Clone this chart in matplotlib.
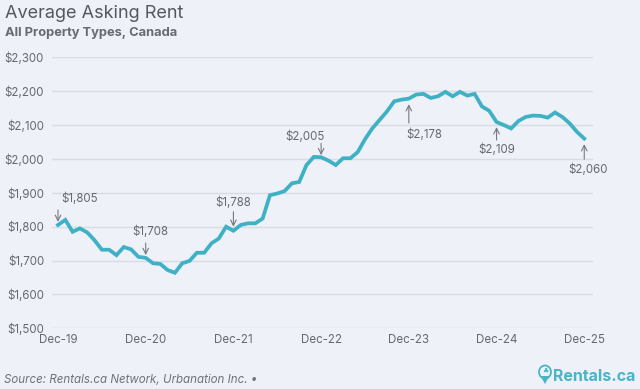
import matplotlib
matplotlib.use("Agg")
import matplotlib.pyplot as plt
from matplotlib.patches import Ellipse, Polygon

# ---- data ----
tick_labels = ["Dec-19", "Dec-20", "Dec-21", "Dec-22", "Dec-23", "Dec-24", "Dec-25"]
rent = [
    1805, 1820, 1785, 1795, 1783, 1760, 1732, 1732, 1716, 1740, 1733, 1711,  # Dec-19..Nov-20
    1708, 1692, 1690, 1672, 1664, 1692, 1699, 1723, 1723, 1751, 1765, 1800,  # Dec-20..Nov-21
    1788, 1805, 1810, 1810, 1824, 1893, 1898, 1905, 1928, 1932, 1982, 2006,  # Dec-21..Nov-22
    2005, 1995, 1982, 2002, 2002, 2020, 2058, 2090, 2115, 2140, 2170, 2175,  # Dec-22..Nov-23
    2178, 2190, 2192, 2180, 2185, 2198, 2185, 2198, 2187, 2192, 2155, 2142,  # Dec-23..Nov-24
    2109, 2100, 2090, 2112, 2124, 2128, 2127, 2122, 2137, 2124, 2105, 2080,  # Dec-24..Nov-25
    2060,                                                                    # Dec-25
]
annot_idx = [0, 12, 24, 36, 48, 60, 72]
annot_txt = ["$1,805", "$1,708", "$1,788", "$2,005", "$2,178", "$2,109", "$2,060"]
yticks = [1500, 1600, 1700, 1800, 1900, 2000, 2100, 2200, 2300]

BG = "#eef1f7"
LINE = "#3fb1c4"
TXT = "#666a70"

plt.rcParams["font.family"] = ["Inter", "DejaVu Sans"]

fig = plt.figure(figsize=(6.4, 3.89), dpi=100, facecolor=BG)
ax = fig.add_axes([0.0808, 0.156, 0.8458, 0.6967], facecolor=BG)

x = list(range(len(rent)))
ax.plot(x, rent, color=LINE, lw=2.7, solid_joinstyle="miter", zorder=3)

ax.set_xlim(-0.86, 73.2)
ax.set_ylim(1500, 2300)
ax.set_yticks(yticks)
ax.set_yticklabels([f"${v:,}" for v in yticks])
ax.set_xticks(list(range(0, 73, 12)))
ax.set_xticklabels(tick_labels)
ax.tick_params(axis="both", length=0, labelsize=8.3, colors=TXT)
ax.tick_params(axis="y", pad=5.5)
ax.tick_params(axis="x", pad=4)
for s in ax.spines.values():
    s.set_visible(False)
ax.grid(axis="y", color="#d8dce4", lw=1)
ax.set_axisbelow(True)

# annotation layout (points): text offset, arrow tail offset, gap between arrow head and line
specs = {
    0: dict(tx=2.2, ty=18.7, ha="left", a0=10.8, gap=2.2),
    12: dict(tx=3.2, ty=18.8, ha="center", a0=10.6, gap=2.0),
    24: dict(tx=0, ty=20.4, ha="center", a0=13.7, gap=2.9),
    36: dict(tx=-11.4, ty=14.7, ha="center", a0=10.0, gap=1.5),
    48: dict(tx=11.2, ty=-25.8, ha="center", a0=-17.6, gap=4.0),
    60: dict(tx=0, ty=-20.2, ha="center", a0=-13.0, gap=3.7),
    72: dict(tx=2.8, ty=-22.7, ha="center", a0=-14.8, gap=4.0),
}
for i, t in zip(annot_idx, annot_txt):
    sp = specs[i]
    xi, yi = x[i], rent[i]
    ax.annotate("", xy=(xi, yi), xytext=(0, sp["a0"]), textcoords="offset points",
                arrowprops=dict(arrowstyle="->", color="#777b80", lw=0.8,
                                shrinkA=0, shrinkB=sp["gap"]),
                annotation_clip=False)
    ax.annotate(t, xy=(xi, yi), xytext=(sp["tx"], sp["ty"]), textcoords="offset points",
                ha=sp["ha"], va="center", fontsize=8.3, color=TXT, annotation_clip=False)

# titles
fig.text(0.008, 0.966, "Average Asking Rent", fontsize=13, color="#55595f", va="center", ha="left")
fig.text(0.008, 0.914, "All Property Types, Canada", fontsize=9.3, color="#676b71",
         fontweight="bold", va="center", ha="left")
fig.text(0.006, 0.022, "Source: Rentals.ca Network, Urbanation Inc. \u2022", fontsize=8.3,
         color="#6f7379", style="italic", va="center", ha="left")

# logo
fig.text(0.992, 0.033, "Rentals.ca", fontsize=11.5, color="#49b5c6", fontweight="bold",
         va="center", ha="right")
pin_x, pin_y = 545 / 640, 1 - 372 / 389
fig.patches.append(Ellipse((pin_x, pin_y), 12 / 640, 13 / 389, transform=fig.transFigure,
                           fill=False, ec="#49b5c6", lw=1.3))
fig.patches.append(Polygon([(pin_x - 4.5 / 640, pin_y - 4 / 389), (pin_x + 4.5 / 640, pin_y - 4 / 389),
                            (pin_x, pin_y - 12 / 389)], closed=True, transform=fig.transFigure,
                           fc="#49b5c6", ec="none"))
fig.text(pin_x, pin_y + 0.002, "\u2663", fontsize=5, color="#49b5c6", ha="center", va="center",
         family=["DejaVu Sans"])

fig.savefig("out.png", dpi=100, facecolor=BG)
